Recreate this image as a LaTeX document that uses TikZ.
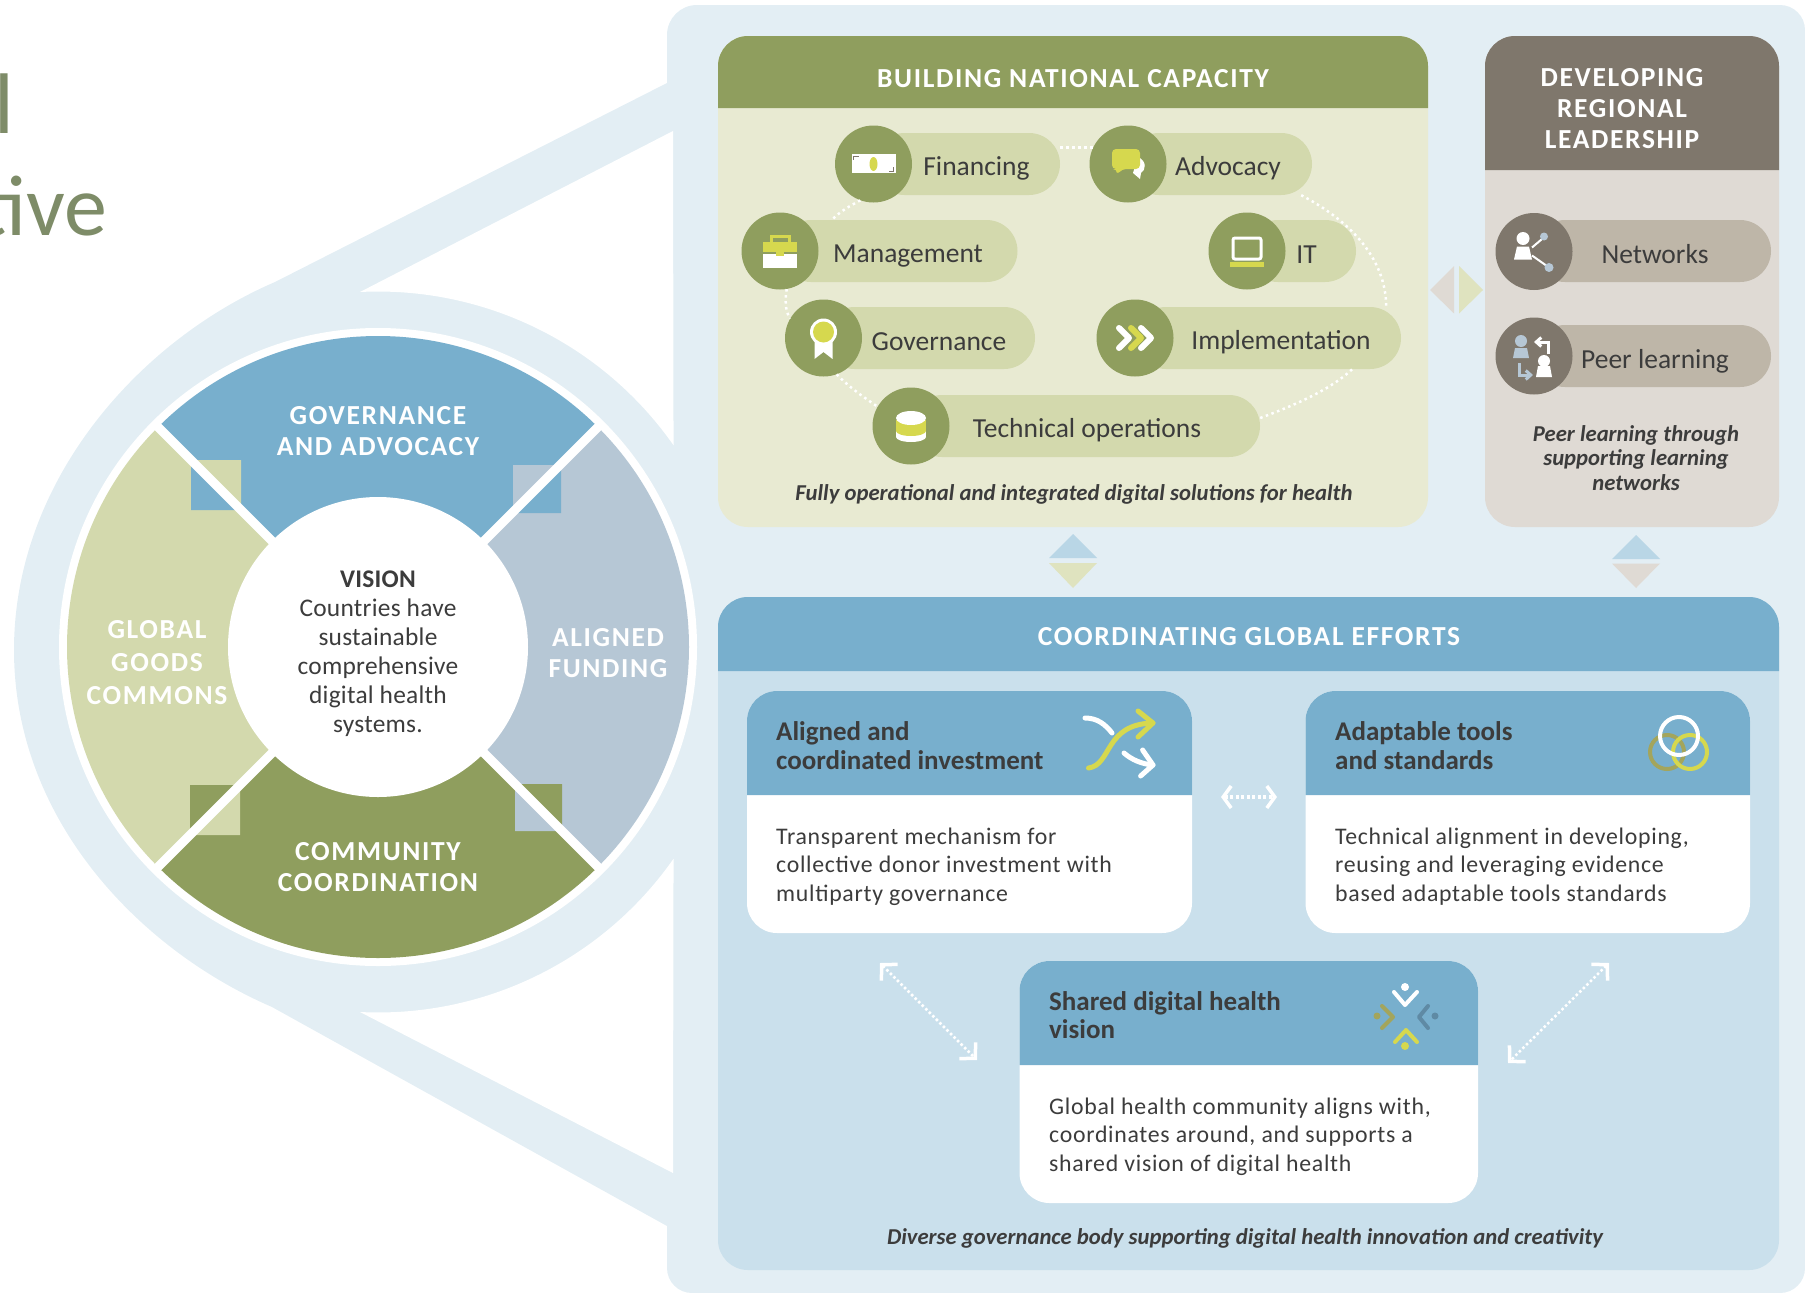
\documentclass[tikz,border=0pt]{standalone}
\usepackage{fontspec}
\usepackage{xcolor}
\setmainfont{Carlito}
\usetikzlibrary{arrows.meta}

\definecolor{paleback}{HTML}{E3EEF4}
\definecolor{skyblue}{HTML}{78AFCD}
\definecolor{skypanel}{HTML}{CAE0EC}
\definecolor{skytri}{HTML}{B9D6E6}
\definecolor{olive}{HTML}{8F9E5E}
\definecolor{olivepill}{HTML}{D3D9AD}
\definecolor{olivepanel}{HTML}{E8EAD2}
\definecolor{olivetri}{HTML}{DFE3BF}
\definecolor{greyblue}{HTML}{B6C7D5}
\definecolor{taupe}{HTML}{7F776C}
\definecolor{taupepill}{HTML}{BEB6A8}
\definecolor{taupepanel}{HTML}{DFDAD4}
\definecolor{lemon}{HTML}{D6D84E}
\definecolor{ink}{HTML}{3C3C3C}
\definecolor{sagetext}{HTML}{7E8C68}
\definecolor{darkolive}{HTML}{A3A55C}
\definecolor{steel}{HTML}{5F8AA4}

\begin{document}
\begin{tikzpicture}[x=1pt, y=-1pt,
    headtext/.style={text=white, align=center, font=\fontsize{27.5}{31}\selectfont\bfseries\addfontfeature{LetterSpace=6}},
    pilltext/.style={text=ink, font=\fontsize{27.5}{30}\selectfont},
    cardhead/.style={text=ink, anchor=west, inner sep=0, align=left, font=\fontsize{27}{28.5}\selectfont\bfseries},
    cardbody/.style={text=ink, anchor=west, inner sep=0, align=left, font=\fontsize{23.8}{28.7}\selectfont\addfontfeature{LetterSpace=3}},
    capnote/.style={text=ink, align=center, font=\fontsize{22.7}{24.5}\selectfont\bfseries\itshape},
    roundel/.style={circle, inner sep=0, minimum size=77pt},
    pill/.style={rectangle, inner sep=0, minimum height=62pt, rounded corners=31pt},
    bodybox/.style={rectangle, inner sep=0, rounded corners=30pt},
    ringdot/.style={draw=white, line width=2.5pt, dash pattern=on 2.5pt off 3.5pt},
    corner/.style={draw=white, line width=2.5pt, dash pattern=on 2.5pt off 2.5pt,
      arrows={Straight Barb[length=11pt,width=23pt,line width=3.5pt]-Straight Barb[length=11pt,width=23pt,line width=3.5pt]}},
    barbs/.style={draw=white, line width=4pt, dash pattern=on 3pt off 2.5pt,
      arrows={Straight Barb[length=8pt,width=22pt,line width=3.5pt]-Straight Barb[length=8pt,width=22pt,line width=3.5pt]}},
    iconline/.style={line width=5pt, line cap=round, line join=round}]
      %\draw [dotted] (0,0) grid (1805,1293);
      \useasboundingbox (0,0) rectangle (1805,1293);

      \node [text=sagetext, anchor=base east, font=\fontsize{86}{90}\selectfont] (headl) at (18,133) {l};
      \node [text=sagetext, anchor=base east, font=\fontsize{86}{90}\selectfont] (headt) at (111,235) {tive};

      \fill [paleback] (667,83) -- (275,282) .. controls (140,340) and (14,480) .. (14,650)
            .. controls (14,820) and (140,950) .. (272,1007) -- (667,1226) -- (667,1268)
            arc[start angle=180, end angle=90, radius=25] -- (1780,1293)
            arc[start angle=90, end angle=0, radius=25] -- (1805,30)
            arc[start angle=0, end angle=-90, radius=25] -- (697,5)
            arc[start angle=-90, end angle=-180, radius=30] -- cycle;
      \fill [white] (673,131) -- (360,292) arc[start angle=267.1, end angle=325, radius=360.5] -- cycle;
      \fill [white] (673,1173) -- (360,1012) arc[start angle=92.9, end angle=35, radius=360.5] -- cycle;

      \node [circle, fill=white, inner sep=0, minimum size=638pt] (rim) at (378,647) {};
      \fill [skyblue]   (378,647) -- +(225:311) arc[start angle=225, end angle=315, radius=311] -- cycle;
      \fill [greyblue]  (378,647) -- +(-45:311) arc[start angle=-45, end angle=45, radius=311] -- cycle;
      \fill [olive]     (378,647) -- +(45:311) arc[start angle=45, end angle=135, radius=311] -- cycle;
      \fill [olivepill] (378,647) -- +(135:311) arc[start angle=135, end angle=225, radius=311] -- cycle;

      \fill [olivepill] (191,460) -- (241,460) -- (241,510) -- cycle;
      \fill [skyblue]   (191,460) -- (191,510) -- (241,510) -- cycle;
      \fill [greyblue]  (561,465) -- (513,465) -- (513,513) -- cycle;
      \fill [skyblue]   (561,465) -- (561,513) -- (513,513) -- cycle;
      \fill [olive]     (240,785) -- (190,785) -- (190,835) -- cycle;
      \fill [olivepill] (240,785) -- (240,835) -- (190,835) -- cycle;
      \fill [olive]     (515,784) -- (562,784) -- (562,831) -- cycle;
      \fill [greyblue]  (515,784) -- (515,831) -- (562,831) -- cycle;

      \draw [white, line width=9pt] (154,423) -- (602,871);
      \draw [white, line width=9pt] (602,423) -- (154,871);

      \node [circle, fill=white, inner sep=0, minimum size=300pt] (vision) at (378,647) {};
      \node [text=ink, align=center, font=\fontsize{25.4}{29}\selectfont\addfontfeature{LetterSpace=1}] (visiont) at (378,654)
            {\textbf{VISION}\\Countries have\\sustainable\\comprehensive\\digital health\\systems.};
      \node [headtext] (gov) at (378,431) {GOVERNANCE\\AND ADVOCACY};
      \node [headtext] (com) at (378,867.5) {COMMUNITY\\COORDINATION};
      \node [headtext] (glo) at (157,663) {GLOBAL\\[2pt]GOODS\\[2pt]COMMONS};
      \node [headtext] (ali) at (608,653) {ALIGNED\\FUNDING};

      \node [bodybox, fill=olivepanel, minimum width=710pt, minimum height=491pt] (natbox) at (1073,281.5) {};
      \fill [olive] (718,108) {[rounded corners=30pt] -- (718,36) -- (1428,36)} -- (1428,108) -- cycle;
      \node [headtext] (natt) at (1073,79) {BUILDING NATIONAL CAPACITY};

      \node [bodybox, fill=taupepanel, minimum width=294pt, minimum height=491pt] (regbox) at (1632,281.5) {};
      \fill [taupe] (1485,170) {[rounded corners=30pt] -- (1485,36) -- (1779,36)} -- (1779,170) -- cycle;
      \node [headtext] (regt) at (1622,109) {DEVELOPING\\REGIONAL\\LEADERSHIP};

      \node [pill, fill=olivepill, minimum width=186.5pt] (finp) at (966.75,164) {};
      \node [pill, fill=olivepill, minimum width=184pt]   (advp) at (1220,164) {};
      \node [pill, fill=olivepill, minimum width=237.5pt] (mgtp) at (898.75,251) {};
      \node [pill, fill=olivepill, minimum width=109pt]   (itp)  at (1301.5,251) {};
      \node [pill, fill=olivepill, minimum width=211.5pt] (govp) at (929.25,338) {};
      \node [pill, fill=olivepill, minimum width=266pt]   (impp) at (1268,338) {};
      \node [pill, fill=olivepill, minimum width=349pt]   (tecp) at (1085.5,426) {};
      \node [roundel, fill=olive] (finc) at (873.5,164) {};
      \node [roundel, fill=olive] (advc) at (1128,164) {};
      \node [roundel, fill=olive] (mgtc) at (780,251) {};
      \node [roundel, fill=olive] (itc)  at (1247,251) {};
      \node [roundel, fill=olive] (govc) at (823.5,338) {};
      \node [roundel, fill=olive] (impc) at (1135,338) {};
      \node [roundel, fill=olive] (tecc) at (911,426) {};

      \draw [ringdot] (finp.east |- advc.155) -- (advc.155);
      \draw [ringdot] (finc.250) .. controls (850,206) and (842,210) .. ([xshift=52pt]mgtp.north west);
      \draw [ringdot] (mgtc.-80) .. controls (785,300) and (785,310) .. (govc.150);
      \draw [ringdot] (govc.-70) .. controls (850,388) and (865,398) .. (tecc.150);
      \draw [ringdot] ([yshift=8pt]tecp.east) .. controls (1295,405) and (1330,390) .. ([xshift=-49pt]impp.south east);
      \draw [ringdot] ([xshift=-11pt]advp.south east) .. controls (1345,218) and (1386,255) .. ([xshift=-15pt]impp.north east);

      \node [pilltext] (fint) at (976.5,168) {Financing};
      \node [pilltext] (advt) at (1228,168) {Advocacy};
      \node [pilltext] (mgtt) at (908,256) {Management};
      \node [pilltext] (itt)  at (1306.5,255) {IT};
      \node [pilltext] (govt) at (939,341.5) {Governance};
      \node [pilltext] (impt) at (1281,342) {Implementation};
      \node [pilltext] (tect) at (1087,430) {Technical operations};
      \node [capnote] (natn) at (1074,494) {Fully operational and integrated digital solutions for health};

      \begin{scope}[shift={(873.5,164)}]
        \fill [white] (-22,-10) rectangle (22,9);
        \draw [taupe, line width=1pt] (-20,-8) -- (-15,-8) (-20,-8) -- (-20,-4) (20,7) -- (15,7) (20,7) -- (20,3);
        \fill [lemon] (0,0) ellipse[x radius=4, y radius=7];
      \end{scope}
      \begin{scope}[shift={(1128,164)}]
        \fill [white] (10,-7) .. controls (19,-3) and (18,6) .. (13,9) -- (12,15) -- (5,9) -- cycle;
        \fill [lemon, rounded corners=4pt] (-16,-15) -- (12,-15) -- (12,5) -- (-6,5) -- (-11,11) -- (-11,5) -- (-16,5) -- cycle;
      \end{scope}
      \begin{scope}[shift={(780,251)}]
        \draw [lemon, line width=3pt] (-9,-9) -- (-9,-15) -- (9,-15) -- (9,-9);
        \fill [lemon] (-17,-9) rectangle (17,1);
        \fill [white] (-17,3) rectangle (17,17);
        \fill [lemon] (-4,1) rectangle (4,5);
      \end{scope}
      \begin{scope}[shift={(1247,251)}]
        \draw [white, line width=3pt, rounded corners=2pt] (-14,-13) rectangle (14,8);
        \fill [lemon] (-17,11) rectangle (17,16);
      \end{scope}
      \begin{scope}[shift={(823.5,338)}]
        \fill [white] (-9,3) -- (9,3) -- (9,21) -- (0,14) -- (-9,21) -- cycle;
        \fill [white] (0,-6) circle[radius=13.5];
        \fill [lemon] (0,-6) circle[radius=10.5];
      \end{scope}
      \begin{scope}[shift={(1135,338)}]
        \draw [white, iconline, line width=6pt] (-16,-10) -- (-6,0) -- (-16,10);
        \draw [lemon, iconline, line width=6pt] (-4,-10) -- (6,0) -- (-4,10);
        \draw [white, iconline, line width=6pt] (6,-10) -- (16,0) -- (6,10);
      \end{scope}
      \begin{scope}[shift={(911,426)}]
        \fill [white] (-15,2) rectangle (15,11);
        \fill [white] (0,11) ellipse[x radius=15, y radius=5];
        \fill [lemon] (-15,-6) rectangle (15,5);
        \fill [lemon] (0,5) ellipse[x radius=15, y radius=5];
        \fill [white] (0,-8) ellipse[x radius=15, y radius=7];
      \end{scope}

      \node [pill, fill=taupepill, minimum width=237pt] (netp) at (1652.5,251) {};
      \node [pill, fill=taupepill, minimum width=237pt] (peep) at (1652.5,356) {};
      \node [roundel, fill=taupe] (netc) at (1534,251.5) {};
      \node [roundel, fill=taupe] (peec) at (1534,356) {};
      \node [pilltext] (nett) at (1655,254.5) {Networks};
      \node [pilltext] (peet) at (1655,361) {Peer learning};
      \node [capnote] (regn) at (1636,458) {Peer learning through\\supporting learning\\networks};

      \begin{scope}[shift={(1534,251.5)}]
        \draw [white, line width=2pt] (-2,-4) -- (11,-15);
        \draw [white, line width=2pt] (-2,4) -- (15,16);
        \fill [greyblue] (10,-15) circle[radius=4];
        \fill [greyblue] (15,16) circle[radius=4.5];
        \fill [white] (-11,-13) circle[radius=6.5];
        \fill [white] (-20,8) -- (-17,-5) -- (-5,-5) -- (-2,8) -- cycle;
      \end{scope}
      \begin{scope}[shift={(1534,356)}]
        \fill [greyblue] (-13,-15) circle[radius=6];
        \fill [greyblue] (-21,2) -- (-19,-8) -- (-7,-8) -- (-5,2) -- cycle;
        \fill [white] (10,5) circle[radius=6];
        \fill [white] (2,21) -- (4,10) -- (16,10) -- (18,21) -- cycle;
        \draw [white, line width=3pt, -{Straight Barb[length=5pt,width=9pt]}] (14,-2) -- (14,-14) -- (0,-14);
        \draw [greyblue, line width=3pt, -{Straight Barb[length=5pt,width=9pt]}] (-15,7) -- (-15,19) -- (-1,19);
      \end{scope}

      \fill [taupepanel] (1430,290) -- (1454,266) -- (1454,313.5) -- cycle;
      \fill [olivetri]   (1483,290) -- (1459,266) -- (1459,313.5) -- cycle;
      \fill [skytri]     (1073,534) -- (1049,558) -- (1097,558) -- cycle;
      \fill [olivetri]   (1073,588) -- (1049,563) -- (1097,563) -- cycle;
      \fill [skytri]     (1636,535) -- (1612,559) -- (1660,559) -- cycle;
      \fill [taupepanel] (1636,588) -- (1612,563.5) -- (1660,563.5) -- cycle;

      \node [bodybox, fill=skypanel, minimum width=1061pt, minimum height=673pt] (efbox) at (1248.5,933.5) {};
      \fill [skyblue] (718,671) {[rounded corners=30pt] -- (718,597) -- (1779,597)} -- (1779,671) -- cycle;
      \node [headtext] (eft) at (1249,636.5) {COORDINATING GLOBAL EFFORTS};

      \node [bodybox, fill=white, minimum width=445pt, minimum height=242pt] (alibox) at (969.5,812) {};
      \fill [skyblue] (747,795) {[rounded corners=30pt] -- (747,691) -- (1192,691)} -- (1192,795) -- cycle;
      \node [cardhead] (alih) at (776,745.5) {Aligned and\\coordinated investment};
      \node [cardbody] (alib) at (776,866.5) {Transparent mechanism for\\collective donor investment with\\multiparty governance};

      \node [bodybox, fill=white, minimum width=444.5pt, minimum height=242pt] (adabox) at (1527.75,812) {};
      \fill [skyblue] (1305.5,795) {[rounded corners=30pt] -- (1305.5,691) -- (1750,691)} -- (1750,795) -- cycle;
      \node [cardhead] (adah) at (1335,745.5) {Adaptable tools\\and standards};
      \node [cardbody] (adab) at (1335,866.5) {Technical alignment in developing,\\reusing and leveraging evidence\\based adaptable tools standards};

      \node [bodybox, fill=white, minimum width=458.5pt, minimum height=242pt] (visbox) at (1248.75,1082) {};
      \fill [skyblue] (1019.5,1065) {[rounded corners=30pt] -- (1019.5,961) -- (1478,961)} -- (1478,1065) -- cycle;
      \node [cardhead] (vish) at (1049,1015) {Shared digital health\\vision};
      \node [cardbody] (visb) at (1049,1136.5) {Global health community aligns with,\\coordinates around, and supports a\\shared vision of digital health};
      \node [capnote] (efn) at (1245,1238.5) {Diverse governance body supporting digital health innovation and creativity};

      \draw [lemon, iconline] (1088.5,768) .. controls (1112,765) and (1104,724) .. (1153,723);
      \draw [lemon, iconline] (1138,711) -- (1153,723) -- (1138,737);
      \draw [white, iconline] (1085,718) .. controls (1097,718) and (1105,724) .. (1112,733);
      \draw [white, iconline] (1124,753) .. controls (1132,760) and (1142,764) .. (1153,765);
      \draw [white, iconline] (1142.6,750) -- (1153,765) -- (1140.6,776);

      \draw [darkolive, line width=4pt] (1667,752) circle[radius=17];
      \draw [lemon, line width=4pt] (1690,752) circle[radius=17];
      \draw [white, line width=4pt] (1679,736) circle[radius=19];

      \fill [white] (1405,987) circle[radius=4];
      \draw [white, iconline, line width=4pt] (1394,992) -- (1405,1005) -- (1417,992);
      \fill [darkolive] (1377,1016) circle[radius=3.5];
      \draw [darkolive, iconline, line width=4pt] (1382,1006) -- (1393,1017) -- (1382,1028);
      \fill [steel] (1435,1016) circle[radius=3.5];
      \draw [steel, iconline, line width=4pt] (1428,1006) -- (1419,1017) -- (1428,1028);
      \fill [lemon] (1405,1046) circle[radius=4];
      \draw [lemon, iconline, line width=4pt] (1395,1042) -- (1406,1030) -- (1417,1042);

      \coordinate (dbla) at (1221,797);
      \coordinate (dblb) at (1277,797);
      \coordinate (cola) at (880,963);
      \coordinate (colb) at (977,1060);
      \coordinate (cora) at (1609,963);
      \coordinate (corb) at (1508,1063);
      \draw [barbs] (dbla) -- (dblb);
      \draw [corner] (cola) -- (colb);
      \draw [corner] (cora) -- (corb);
\end{tikzpicture}
\end{document}
